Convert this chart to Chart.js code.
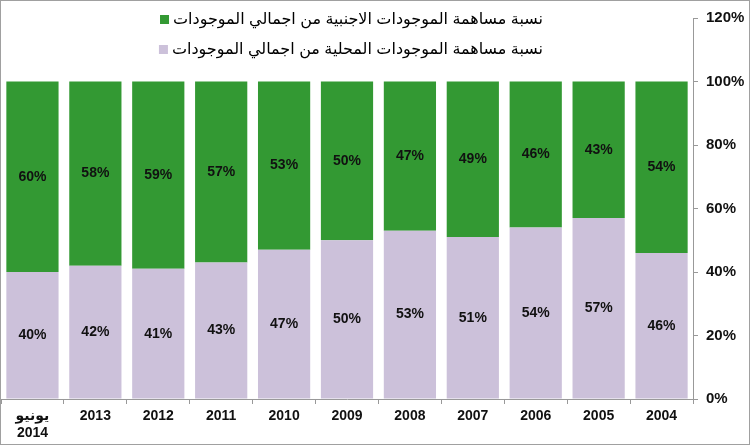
<!DOCTYPE html>
<html>
<head>
<meta charset="utf-8">
<script src="https://cdn.jsdelivr.net/npm/chart.js@4"></script>
<style>
    body { margin: 0; background: #fff; }
    #wrap { width: 750px; height: 445px; box-sizing: border-box; border: 1px solid #a0a0a0; position: relative; }
</style>
</head>
<body>
<div id="wrap"><canvas id="shareChart"></canvas></div>
<script>
const years = [['يونيو', '2014'], '2013', '2012', '2011', '2010', '2009', '2008', '2007', '2006', '2005', '2004'];
const localShare = [40, 42, 41, 43, 47, 50, 53, 51, 54, 57, 46];
const foreignShare = [60, 58, 59, 57, 53, 50, 47, 49, 46, 43, 54];
const yTicks = [0, 20, 40, 60, 80, 100, 120];

const foreignLabel = 'نسبة مساهمة الموجودات الاجنبية من اجمالي الموجودات';
const localLabel = 'نسبة مساهمة الموجودات المحلية من اجمالي الموجودات';

const fontFamily = 'Arial, "Liberation Sans", "DejaVu Sans", sans-serif';

// percent labels in the middle of every segment
const valueLabels = {
    id: 'valueLabels',
    afterDatasetsDraw(chart) {
        const ctx = chart.ctx;
        ctx.save();
        ctx.font = 'bold 14px ' + fontFamily;
        ctx.fillStyle = '#111';
        ctx.textAlign = 'center';
        ctx.textBaseline = 'middle';
        chart.data.datasets.forEach((ds, i) => {
            chart.getDatasetMeta(i).data.forEach((bar, j) => {
                const p = bar.getCenterPoint();
                ctx.fillText(ds.data[j] + '%', p.x, p.y);
            });
        });
        ctx.restore();
    }
};

// legend drawn inside the plot, right-to-left text with the box on its left
const rtlLegend = {
    id: 'rtlLegend',
    afterDraw(chart) {
        const ctx = chart.ctx;
        const right = 542;
        const rows = [
            { text: foreignLabel, color: chart.data.datasets[1].backgroundColor, y: 19 },
            { text: localLabel, color: chart.data.datasets[0].backgroundColor, y: 49 }
        ];
        ctx.save();
        ctx.font = '16px ' + fontFamily;
        ctx.fillStyle = '#000';
        ctx.textBaseline = 'middle';
        ctx.direction = 'rtl';
        ctx.textAlign = 'right';
        rows.forEach(r => {
            const w = ctx.measureText(r.text).width;
            ctx.fillStyle = r.color;
            ctx.fillRect(right - w - 13, r.y - 5, 9, 9);
            ctx.fillStyle = '#000';
            ctx.fillText(r.text, right, r.y);
        });
        ctx.restore();
    }
};

const shareChart = new Chart(document.getElementById('shareChart').getContext('2d'), {
    type: 'bar',
    data: {
        labels: years,
        datasets: [
            {
                label: localLabel,
                data: localShare,
                backgroundColor: '#ccc1da',
                categoryPercentage: 1,
                barPercentage: 0.83
            },
            {
                label: foreignLabel,
                data: foreignShare,
                backgroundColor: '#339933',
                categoryPercentage: 1,
                barPercentage: 0.83
            }
        ]
    },
    options: {
        responsive: true,
        maintainAspectRatio: false,
        animation: false,
        layout: { padding: { top: 14, left: 0, right: 0, bottom: 0 } },
        plugins: {
            legend: { display: false },
            tooltip: { enabled: false }
        },
        scales: {
            x: {
                stacked: true,
                grid: { drawOnChartArea: false, color: '#999', tickLength: 5 },
                border: { color: '#999' },
                ticks: {
                    color: '#111',
                    font: { family: fontFamily, size: 14, weight: 'bold' },
                    padding: 4,
                    maxRotation: 0
                },
                afterFit(scale) { scale.height = 45; }
            },
            y: {
                stacked: true,
                position: 'right',
                min: 0,
                max: 120,
                afterBuildTicks(scale) { scale.ticks = yTicks.map(v => ({ value: v })); },
                grid: { drawOnChartArea: false, color: '#999', tickLength: 5 },
                border: { color: '#999' },
                ticks: {
                    color: '#111',
                    font: { family: fontFamily, size: 15, weight: 'bold' },
                    padding: 8,
                    callback: v => v + '%'
                },
                afterFit(scale) { scale.width = 56; }
            }
        }
    },
    plugins: [valueLabels, rtlLegend]
});
</script>
</body>
</html>
